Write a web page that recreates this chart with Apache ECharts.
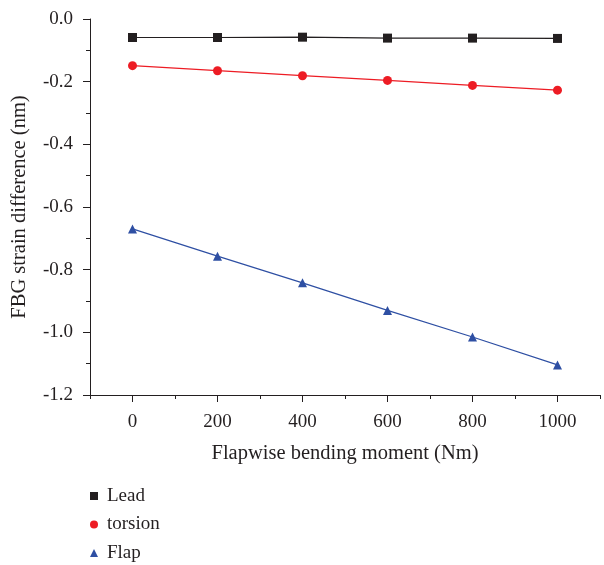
<!DOCTYPE html>
<html>
<head>
<meta charset="utf-8">
<script src="https://cdn.jsdelivr.net/npm/echarts@6/dist/echarts.min.js"></script>
<style>
html,body{margin:0;padding:0;background:#fff;}
#chart{width:604px;height:565px;}
</style>
</head>
<body>
<div id="chart"></div>
<script>
var moments = [0, 200, 400, 600, 800, 1000];
var lead = [-0.059, -0.059, -0.058, -0.061, -0.061, -0.062];
var torsion = [-0.149, -0.165, -0.181, -0.196, -0.212, -0.227];
var flap = [-0.670, -0.757, -0.842, -0.930, -1.015, -1.104];
var xMajorTicks = [0, 200, 400, 600, 800, 1000];
var xMinorTicks = [-100, 100, 300, 500, 700, 900, 1100];
var seriesNames = ['Lead', 'torsion', 'Flap'];

var FONT = '"Liberation Serif", "DejaVu Serif", serif';
var INK = '#231f20';

function pairs(vals) {
  return moments.map(function (m, i) { return [m, vals[i]]; });
}

var chart = echarts.init(document.getElementById('chart'), null, {renderer: 'canvas'});
chart.setOption({
  animation: false,
  backgroundColor: '#ffffff',
  grid: {left: 90, top: 19, right: 4, bottom: 170, containLabel: false},
  legend: {
    orient: 'vertical',
    left: 90,
    top: 486,
    padding: 0,
    itemGap: 8.5,
    itemWidth: 8,
    itemHeight: 8,
    textStyle: {fontFamily: FONT, fontSize: 19, lineHeight: 20, color: INK, padding: [0, 0, 0, 4]},
    data: [
      {name: seriesNames[0], icon: 'rect'},
      {name: seriesNames[1], icon: 'circle'},
      {name: seriesNames[2], icon: 'triangle'}
    ]
  },
  xAxis: [{
    type: 'value',
    position: 'bottom',
    min: -100,
    max: 1100,
    name: 'Flapwise bending moment (Nm)',
    nameLocation: 'middle',
    nameGap: 48,
    nameTextStyle: {fontFamily: FONT, fontSize: 20.5, color: INK},
    axisLine: {show: true, onZero: false, lineStyle: {color: INK, width: 1}},
    axisTick: {show: true, inside: false, length: 7, customValues: xMajorTicks, lineStyle: {color: INK}},
    axisLabel: {show: true, customValues: xMajorTicks, margin: 18, fontFamily: FONT, fontSize: 19, color: INK,
      formatter: function (v) { return String(v); }},
    splitLine: {show: false}
  }, {
    type: 'value',
    position: 'bottom',
    min: -100,
    max: 1100,
    axisLine: {show: false, onZero: false},
    axisTick: {show: true, inside: false, length: 4, customValues: xMinorTicks, lineStyle: {color: INK}},
    axisLabel: {show: false},
    splitLine: {show: false}
  }],
  yAxis: {
    type: 'value',
    min: -1.2,
    max: 0,
    interval: 0.2,
    name: 'FBG strain difference (nm)',
    nameLocation: 'middle',
    nameGap: 60,
    nameTextStyle: {fontFamily: FONT, fontSize: 20.5, color: INK},
    axisLine: {show: true, onZero: false, lineStyle: {color: INK, width: 1}},
    axisTick: {show: true, inside: false, length: 7, lineStyle: {color: INK}},
    minorTick: {show: true, splitNumber: 2, length: 4, lineStyle: {color: INK}},
    axisLabel: {
      margin: 17, fontFamily: FONT, fontSize: 19, color: INK,
      formatter: function (v) { return (Math.abs(v) < 1e-9 ? 0 : v).toFixed(1); }
    },
    splitLine: {show: false},
    minorSplitLine: {show: false}
  },
  series: [{
    name: seriesNames[0], type: 'line', data: pairs(lead),
    symbol: 'rect', symbolSize: 9,
    itemStyle: {color: INK}, lineStyle: {color: INK, width: 1.2}
  }, {
    name: seriesNames[1], type: 'line', data: pairs(torsion),
    symbol: 'circle', symbolSize: 9,
    itemStyle: {color: '#ed1c24'}, lineStyle: {color: '#ed1c24', width: 1.2}
  }, {
    name: seriesNames[2], type: 'line', data: pairs(flap),
    symbol: 'triangle', symbolSize: 9,
    itemStyle: {color: '#2e4fa3'}, lineStyle: {color: '#2e4fa3', width: 1.2}
  }]
});
</script>
</body>
</html>
